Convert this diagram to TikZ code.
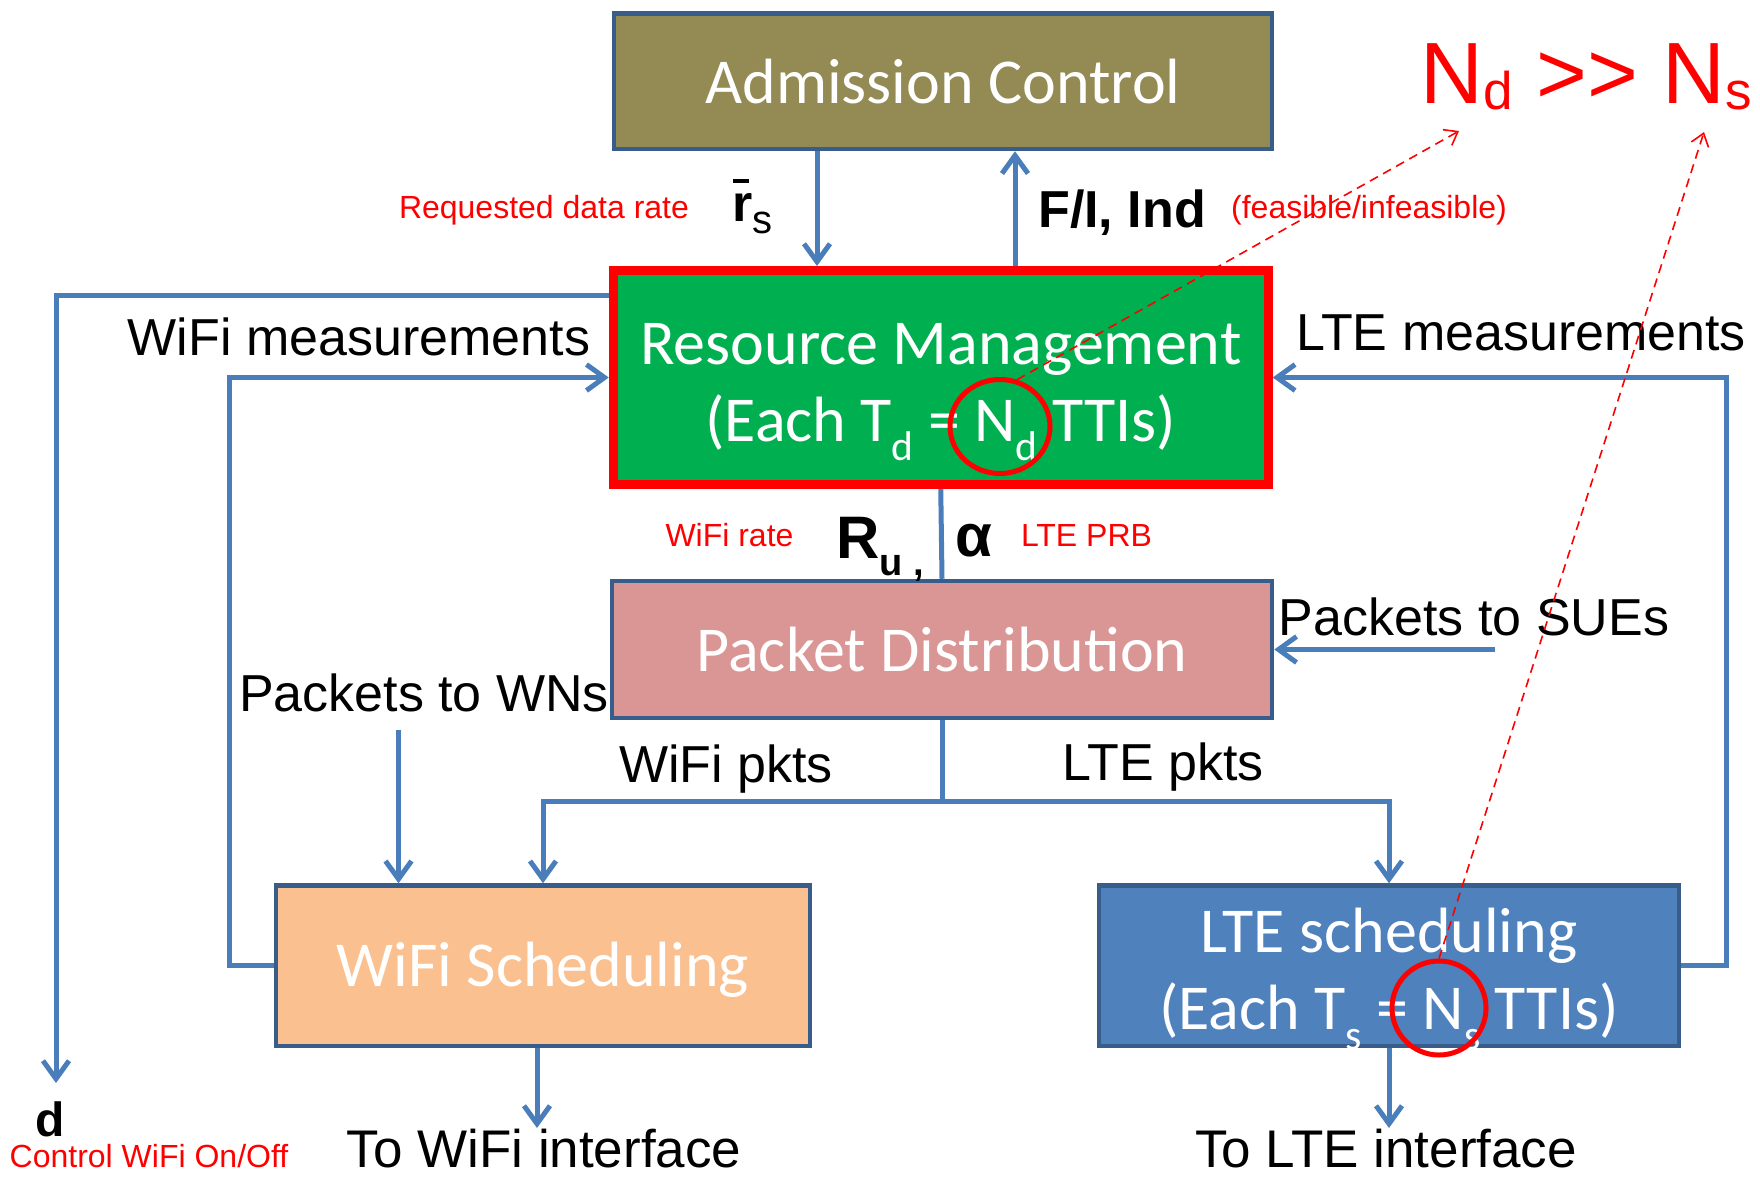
\documentclass[tikz,border=0pt]{standalone}
\usepackage{fontspec}
\setmainfont{Liberation Sans}
\newfontfamily\boxfont{Carlito}
\usetikzlibrary{arrows.meta,shapes.geometric}
\definecolor{olivebox}{HTML}{948A54}
\definecolor{edgeblue}{HTML}{385D8A}
\definecolor{greenbox}{HTML}{00B050}
\definecolor{pinkbox}{HTML}{D99694}
\definecolor{peachbox}{HTML}{FAC090}
\definecolor{ltebox}{HTML}{4F81BD}
\definecolor{arrowblue}{HTML}{4A7EBB}
\newcommand\mysub[1]{\smash{\raisebox{-0.3em}{\scalebox{0.65}{#1}}}}
\newcommand\bigsub[1]{\raisebox{-0.08em}{\scalebox{0.61}{#1}}}
\newcommand\fsz[1]{\fontsize{#1}{#1}\selectfont}
\newcommand\topstrut{\rule{0pt}{60pt}}
\begin{document}
\begin{tikzpicture}[x=1pt,y=-1pt,
  box/.style={draw=edgeblue,line width=4.5,inner sep=0,text=white,align=center,
    font=\boxfont\fontsize{64}{77}\selectfont},
  arr/.style={draw=arrowblue,line width=5,-{Straight Barb[length=18,width=26,line width=5]}},
  plain/.style={draw=arrowblue,line width=5},
  lbl/.style={inner sep=0,font=\fsz{52}},
  redlbl/.style={inner sep=0,text=red,font=\fsz{32}},
  rdash/.style={draw=red,line width=1.6,dash pattern=on 9 off 6,-{Straight Barb[length=12,width=18,line width=1.6]}},
  ring/.style={draw=red,line width=5,inner sep=0}]
\useasboundingbox (0,0) rectangle (1760,1176);

% boxes
\node[box,fill=olivebox,minimum width=658,minimum height=135.5] (ac) at (943,81.25) {Admission Control};
\node[box,draw=red,line width=9,fill=greenbox,minimum width=655,minimum height=214] (rm) at (940.75,377.5)
  {\topstrut Resource Management\\(Each T\mysub{d} = N\mysub{d} TTIs)};
\node[box,fill=pinkbox,minimum width=660,minimum height=137] (pd) at (942,649.5) {Packet Distribution};
\node[box,fill=peachbox,minimum width=534,minimum height=160.5] (ws) at (543,965.75) {\rule{0pt}{52pt}WiFi Scheduling};
\node[box,fill=ltebox,minimum width=580,minimum height=160.5] (ls) at (1389,965.75)
  {\topstrut LTE scheduling\\(Each T\mysub{s} = N\mysub{s} TTIs)};

% helper coordinates
\coordinate (c1) at (817,0);
\coordinate (c2) at (1015,0);
\coordinate (dy) at (0,295);
\coordinate (dx) at (56,1083);
\coordinate (wl) at (229,377.5);
\coordinate (lr) at (1726,377.5);
\coordinate (sue) at (1495,649.5);
\coordinate (wn) at (398.5,729.5);
\coordinate (jn) at (0,801);
\coordinate (wo) at (537,1128);
\coordinate (lo) at (0,1128);

% connectors
\draw[arr] (ac.south -| c1) -- (rm.north -| c1);
\draw[arr] (rm.north -| c2) -- (ac.south -| c2);
\draw[plain] (rm.south) -- (pd.north);
\draw[arr] (rm.west |- dy) -| (dx);
\draw[arr] (ws.west) -| (wl) -- (rm.west);
\draw[arr] (ls.east) -| (lr) -- (rm.east);
\draw[arr] (sue) -- (pd.east);
\draw[arr] (wn) -- (ws.north -| wn);
\draw[plain] (pd.south) -- (pd.south |- jn);
\draw[arr] (pd.south |- jn) -| (ws.north);
\draw[arr] (pd.south |- jn) -| (ls.north);
\draw[arr] (ws.south -| wo) -- (wo);
\draw[arr] (ls.south) -- (ls.south |- lo);

% labels
\node[redlbl] (req) at (544,210) {Requested data rate};
\node[inner sep=0,anchor=base west,font=\fsz{52}] (rs) at (732,221)
  {\rlap{\hspace{0.02em}\rule[0.74em]{0.3em}{0.06em}}\textbf{r}\raisebox{-12pt}{\fsz{40}s}};
\node[lbl,font=\fsz{52}\bfseries] (fi) at (1122,213) {F/I, Ind};
\node[redlbl] (feas) at (1369,210) {(feasible/infeasible)};
\node[lbl] (wm) at (359,337) {WiFi measurements};
\node[lbl] (lm) at (1521,333) {LTE measurements};
\node[redlbl] (wr) at (729.5,535) {WiFi rate};
\node[inner sep=0,anchor=base west,font=\fsz{60}\bfseries] (ru) at (836,558)
  {R\raisebox{-17pt}{\fsz{38}\bfseries u ,}};
\node[inner sep=0,anchor=base,font=\fsz{60}\bfseries] (al) at (974,556) {α};
\node[redlbl] (prb) at (1086.5,535) {LTE PRB};
\node[lbl] (suet) at (1474,617) {Packets to SUEs};
\node[lbl] (wnt) at (424,692.5) {Packets to WNs};
\node[lbl] (wp) at (726,769.5) {WiFi pkts};
\node[lbl] (lp) at (1163,767) {LTE pkts};
\node[inner sep=0,font=\fsz{48}\bfseries] (dd) at (50.5,1119) {d};
\node[redlbl] (cw) at (149,1156) {Control WiFi On/Off};
\node[lbl,font=\fsz{53}] (twi) at (544,1149) {To WiFi interface};
\node[lbl,font=\fsz{53}] (tli) at (1386,1149) {To LTE interface};

% N_d >> N_s
\node[inner sep=0,anchor=base west,text=red,font=\fsz{87}] (nn) at (1420,103)
  {N\bigsub{d} {>}{>} N\bigsub{s}};
\coordinate (t1) at (1459,131);
\coordinate (t2) at (1704,132);

% rings and dashed pointers
\node[ring,ellipse,minimum width=100,minimum height=94] (e1) at (1000,426.5) {};
\node[ring,circle,minimum size=94] (e2) at (1439,1008) {};
\draw[rdash] (e1.70) -- (t1);
\draw[rdash] (e2.north) -- (t2);
\end{tikzpicture}
\end{document}
